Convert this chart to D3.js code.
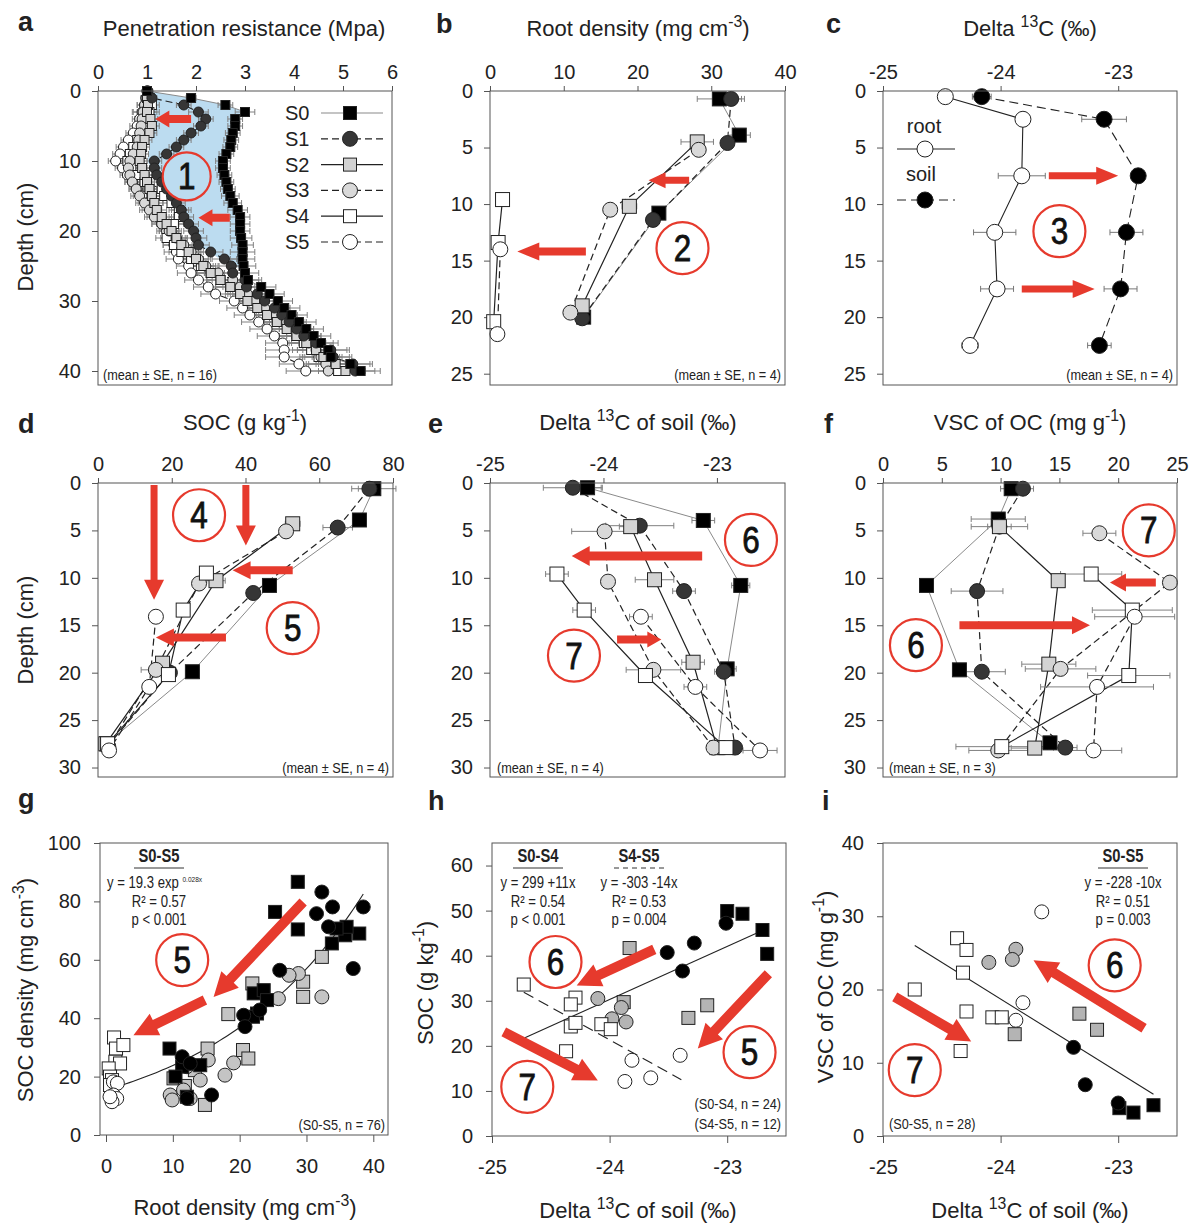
<!DOCTYPE html>
<meta charset="utf-8">
<head>
  <meta charset="utf-8">
  <title>Soil profiles</title>
  <style>
    body { margin: 0; background: #fff; }
  </style>
</head>
<body>
<script src="https://cdn.jsdelivr.net/npm/d3@7"></script>
<script>

// ---------- data ----------
var series = ["S0", "S1", "S2", "S3", "S4", "S5"];

// a: penetration resistance (MPa) at 1 cm steps
var paDepth = [0,1,2,3,4,5,6,7,8,9,10,11,12,13,14,15,16,17,18,19,20,21,22,23,24,25,26,27,28,29,30,31,32,33,34,35,36,37,38,39,40];
var paS0 = [1.0,1.9,2.6,3.0,2.8,2.8,2.75,2.72,2.7,2.62,2.55,2.55,2.58,2.62,2.65,2.7,2.75,2.85,2.9,2.9,2.9,2.92,2.95,2.95,2.95,2.97,3.0,3.06,3.33,3.5,3.67,3.8,3.95,4.1,4.25,4.4,4.55,4.7,4.75,5.15,5.36];
var paS1 = [1.02,1.1,1.75,2.05,2.2,2.1,1.9,1.75,1.6,1.4,1.15,1.15,1.2,1.3,1.4,1.5,1.6,1.7,1.75,1.85,1.95,2.0,2.05,2.3,2.58,2.72,2.75,3.0,3.03,3.25,3.4,3.6,3.75,3.9,4.05,4.2,4.45,4.75,4.8,5.2,5.25];
var paS2 = [1.0,1.0,1.02,1.0,1.07,1.1,1.05,0.95,0.9,0.88,0.85,0.9,0.95,1.0,1.05,1.1,1.15,1.2,1.3,1.4,1.5,1.6,1.7,1.85,2.0,2.15,2.3,2.5,2.7,2.9,3.05,3.25,3.45,3.65,3.85,4.05,4.25,4.45,4.6,4.85,5.05];
var paS3 = [1.0,0.98,0.95,0.92,0.9,0.88,0.85,0.83,0.8,0.72,0.65,0.62,0.65,0.7,0.78,0.85,0.95,1.05,1.15,1.3,1.45,1.6,1.75,1.9,2.05,2.2,2.45,2.75,2.9,3.05,3.2,3.4,3.6,3.85,4.05,4.2,4.3,4.45,4.55,4.65,4.7];
var paS4 = [1.0,1.05,1.1,1.05,1.0,0.95,0.88,0.8,0.72,0.65,0.6,0.68,0.8,0.95,1.3,1.35,1.5,1.65,1.65,1.55,1.45,1.4,1.55,1.7,1.9,2.1,2.3,2.5,2.7,2.95,3.15,3.35,3.55,3.75,3.9,4.05,4.2,4.35,4.5,4.7,4.9];
var paS5 = [1.0,0.98,0.95,0.9,0.85,0.8,0.72,0.62,0.52,0.45,0.36,0.5,0.6,0.7,0.8,0.9,1.0,1.1,1.2,1.3,1.4,1.5,1.55,1.6,1.64,1.85,1.9,2.05,2.25,2.4,2.78,2.95,3.1,3.28,3.45,3.6,3.77,3.8,3.8,4.1,4.24];
var paSE = [0.05,0.1,0.15,0.2,0.15,0.15,0.15,0.15,0.15,0.15,0.15,0.15,0.15,0.15,0.15,0.18,0.18,0.2,0.2,0.2,0.2,0.22,0.22,0.25,0.25,0.25,0.28,0.28,0.3,0.3,0.3,0.32,0.32,0.35,0.35,0.35,0.35,0.38,0.38,0.4,0.4];
var paBlueX = [1.0,1.05,1.1,1.05,1.0,1.9,2.05,2.6,2.95];
var paBlueD = [0,3,5,8,10,20,22,24.5,25.5];

// b: root density (mg cm-3)
var pbX = [[31.1,33.8,22.9,12.7],[32.7,32.2,22.1,12.5],[28.1,18.9,12.5],[28.3,16.3,10.9],[1.7,1.1,0.5],[1.4,1.0]];
var pbD = [[0.7,3.9,10.8,20.0],[0.7,4.6,11.4,20.1],[4.5,10.2,19.0],[5.2,10.5,19.6],[9.6,13.4,20.4],[14.0,21.5]];
var pbE = [[3.0,1.5,0.5,0.4],[1.8,0.8,0.5,0.4],[2.2,1.0,0.4],[0.6,0.5,0.4],[0.3,0.3,0.2],[0.3,0.2]];

// c: delta 13C of root and soil
var pcDepth = [0.5,2.5,7.5,12.5,17.5,22.5];
var pcRoot = [-24.47,-23.81,-23.82,-24.05,-24.03,-24.26];
var pcRootE = [0.03,0.03,0.2,0.18,0.14,0.07];
var pcSoil = [-24.16,-23.12,-22.83,-22.93,-22.98,-23.16];
var pcSoilE = [0.08,0.19,0.03,0.14,0.14,0.1];

// d: SOC (g kg-1)
var pdX = [[74.8,70.9,46.5,25.6,2.3],[73.6,65.0,42.1,19.5,2.5],[52.8,32.0,17.5,2.1],[51.0,27.4,15.7,2.8],[29.4,23.1,19.1,2.6],[15.7,13.9,3.0]];
var pdD = [[0.6,3.9,10.8,19.9,27.5],[0.6,4.7,11.6,20.0,27.8],[4.3,10.3,19.0,27.5],[5.1,10.6,19.7,27.8],[9.5,13.4,20.2,27.5],[14.1,21.5,28.2]];
var pdE = [[6,1.5,1,1,0.5],[3,4,1,1,0.5],[2,2.5,1,0.5],[1,1,4,0.5],[1,1,2,0.5],[1,1,0.5]];

// e: delta 13C of soil
var peX = [[-24.14,-23.12,-22.79,-22.91,-22.99],[-24.27,-23.68,-23.29,-22.94,-22.84],[-23.76,-23.55,-23.21,-23.0],[-23.99,-23.96,-23.56,-23.03],[-24.41,-24.17,-23.63,-22.92],[-23.67,-23.19,-22.62]];
var peD = [[0.5,3.95,10.8,19.6,27.9],[0.5,4.5,11.4,19.9,27.9],[4.6,10.2,18.9,27.9],[5.1,10.4,19.7,27.9],[9.6,13.4,20.3,27.9],[14.1,21.5,28.2]];
var peE = [[0.12,0.1,0.08,0.08,0.05],[0.26,0.3,0.1,0.08,0.05],[0.1,0.17,0.1,0.05],[0.29,0.05,0.24,0.05],[0.1,0.1,0.05,0.05],[0.1,0.1,0.15]];

// f: VSC of OC (mg g-1)
var pfX = [[10.9,9.8,3.7,6.5,14.2],[11.9,9.9,8.0,8.4,15.5],[9.9,14.9,14.1,12.9],[18.4,24.4,15.1,9.8],[17.7,21.2,20.9,10.1],[21.4,18.2,17.9]];
var pfD = [[0.6,3.8,10.8,19.7,27.4],[0.6,4.6,11.4,19.9,27.9],[4.6,10.3,19.1,27.95],[5.3,10.5,19.6,28.2],[9.6,13.4,20.3,27.8],[14.1,21.5,28.2]];
var pfE = [[0.9,2.3,0.3,0.5,0.5],[0.9,1.0,2.2,2.0,1.0],[2.4,0.5,2.3,2.0],[1.4,0.5,3.0,2.5],[2.6,3.4,3.5,3.9],[3.4,4.8,2.4]];

// g: root density vs SOC density
var pgX = [[28.7,25.3,28.7,37.9,33.8,35.8,36.0,34.5,22.1,23.6,24.1,22.6,22.0,9.5,11.4,14.1,10.4,12.1],
           [32.3,31.5,33.9,38.5,33.3,37.0,26.0,20.6,20.8,23.0,11.4,12.6,12.1,15.8],
           [32.3,29.5,29.5,21.9,18.3,15.2,20.5,21.3,10.1,11.8,13.3,14.8],
           [28.8,27.4,25.8,32.3,15.3,19.1,17.8,14.1,12.1,9.6,9.9,12.6,11.6],
           [1.2,1.5,2.6,1.4,2.1,0.4,0.6,0.9,0.6],
           [1.1,1.7,1.1,1.6,0.9,0.6]];
var pgY = [[86.7,76.4,70.4,69.0,65.6,68.4,71.3,70.7,48.5,49.6,46.2,41.6,40.5,29.6,23.4,23.9,20.0,13.1],
           [83.2,75.8,78.1,78.1,71.3,57.0,56.4,41.0,37.1,42.8,26.8,24.5,12.5,13.7],
           [61.0,52.5,47.3,51.9,41.4,29.6,29.1,26.2,19.4,16.8,22.2,10.3],
           [55.3,54.7,46.7,47.3,25.7,24.7,20.5,18.8,23.4,13.7,12.0,12.5,15.4],
           [33.4,29.6,30.8,25.1,24.5,22.8,20.0,18.8,17.1],
           [18.2,17.7,13.7,12.5,11.4,13.1]];
var pgFit = {a: 15.4, b: 0.0436, from: 0.5, to: 38.5};

// h: delta 13C vs SOC
var phX = [[-23.0,-22.87,-22.70,-22.66],[-23.01,-23.28,-23.51,-23.38],[-23.83,-23.88,-23.33,-23.17],[-24.10,-23.90,-23.98,-23.86],
           [-24.73,-24.29,-24.33,-24.33,-24.29,-24.07,-23.99,-24.37],[-23.81,-23.87,-23.65,-23.40]];
var phY = [[49.9,49.3,45.7,40.4],[47.2,42.8,40.7,36.6],[41.7,29.7,26.2,29.0],[30.5,28.5,26.0,25.3],
           [33.6,30.7,29.2,24.3,25.1,24.8,23.7,18.8],[16.8,12.1,12.9,17.9]];
var phFitA = [[-24.72,21.8],[-22.70,45.6]];
var phFitB = [[-24.73,31.9],[-23.39,12.5]];

// i: delta 13C vs VSC
var piX = [[-22.99,-22.87,-22.70],[-23.38,-23.28,-23.0],[-23.88,-23.33,-23.18],[-24.10,-23.87,-23.90],
           [-24.37,-24.29,-24.32,-24.73,-24.29,-24.07,-23.99,-24.34],[-23.65,-23.81,-23.87]];
var piY = [[3.8,3.2,4.2],[12.1,7.0,4.5],[13.9,16.7,14.5],[23.7,25.5,24.1],
           [27.0,25.4,22.3,20.0,17.0,16.2,16.2,11.6],[30.6,18.2,15.8]];
var piFit = [[-24.73,26.0],[-22.70,5.7]];

// ---------- styles ----------
var FONT = "'Liberation Sans', Arial, sans-serif";
var NARROW_X = 0.82;   // horizontal squeeze used to mimic a narrow face
var RED = "#e63a2d";
var BLUE = "#bcdcf0";
var style = {
  S0: {shape: "square", fill: "#000", line: "#8a8a8a", dash: null, lw: 1},
  S1: {shape: "circle", fill: "#363636", line: "#222", dash: "7,4", lw: 1.2},
  S2: {shape: "square", fill: "#d3d3d3", line: "#222", dash: null, lw: 1.2},
  S3: {shape: "circle", fill: "#d9d9d9", line: "#222", dash: "7,4", lw: 1.2},
  S4: {shape: "square", fill: "#fff", line: "#222", dash: null, lw: 1.2},
  S5: {shape: "circle", fill: "#fff", line: "#222", dash: "7,4", lw: 1.2}
};

var svg = d3.select("body").append("svg")
    .attr("width", 1196).attr("height", 1223)
    .style("background", "#fff");

function fmt(d) { return String(d); }

function frame(p) {
  var x = d3.scaleLinear().domain(p.xd).range(p.xr);
  var y = d3.scaleLinear().domain(p.yd).range(p.yr);
  var g = svg.append("g");
  var top = Math.min(p.yr[0], p.yr[1]), bot = Math.max(p.yr[0], p.yr[1]);
  var xa = (p.xTop ? d3.axisTop(x) : d3.axisBottom(x))
      .tickValues(p.xt).tickSize(p.xTop ? 5 : 7).tickPadding(p.xTop ? 7 : 17).tickFormat(fmt);
  var gx = g.append("g").attr("transform", "translate(0," + (p.xTop ? top : bot) + ")").call(xa);
  var ya = d3.axisLeft(y).tickValues(p.yt).tickSize(6).tickPadding(p.xTop ? 11 : 13).tickFormat(fmt);
  var gy = g.append("g").attr("transform", "translate(" + p.xr[0] + ",0)").call(ya);
  [gx, gy].forEach(function(a) {
    a.attr("font-size", 20).attr("font-family", FONT).attr("color", "#222");
    a.select(".domain").remove();
    a.selectAll("line").attr("stroke", "#555");
  });
  var plot = g.append("g");
  g.append("rect")
      .attr("x", p.xr[0]).attr("y", top)
      .attr("width", p.xr[1] - p.xr[0]).attr("height", bot - top)
      .attr("fill", "none").attr("stroke", "#555").attr("stroke-width", 1);
  return {g: plot, x: x, y: y, top: g};
}

function marker(g, cx, cy, shape, size, fill, stroke) {
  if (shape === "square") {
    g.append("rect").attr("x", cx - size / 2).attr("y", cy - size / 2)
      .attr("width", size).attr("height", size)
      .attr("fill", fill).attr("stroke", stroke || "#222").attr("stroke-width", 1);
  } else {
    g.append("circle").attr("cx", cx).attr("cy", cy).attr("r", size / 2)
      .attr("fill", fill).attr("stroke", stroke || "#222").attr("stroke-width", 1);
  }
}

function errbar(g, x1, x2, y, col) {
  g.append("line").attr("x1", x1).attr("x2", x2).attr("y1", y).attr("y2", y)
    .attr("stroke", col || "#777").attr("stroke-width", 1);
  [x1, x2].forEach(function(xx) {
    g.append("line").attr("x1", xx).attr("x2", xx).attr("y1", y - 3).attr("y2", y + 3)
      .attr("stroke", col || "#777").attr("stroke-width", 1);
  });
}

// profile panel: values xs[k][i] at depth ds[k][i]
function profile(P, xs, ds, es, sq, order) {
  order = order || [0, 1, 2, 3, 4, 5];
  var line = d3.line().x(function(d) { return P.x(d[0]); }).y(function(d) { return P.y(d[1]); });
  order.forEach(function(k) {
    var st = style[series[k]];
    var pts = xs[k].map(function(v, i) { return [v, ds[k][i]]; });
    P.g.append("path").attr("d", line(pts)).attr("fill", "none")
      .attr("stroke", st.line).attr("stroke-width", st.lw)
      .attr("stroke-dasharray", st.dash);
  });
  order.forEach(function(k) {
    xs[k].forEach(function(v, i) {
      var e = es[k][i];
      if (e > 0.04) errbar(P.g, P.x(v - e), P.x(v + e), P.y(ds[k][i]), "#808080");
    });
  });
  order.forEach(function(k) {
    var st = style[series[k]];
    xs[k].forEach(function(v, i) {
      marker(P.g, P.x(v), P.y(ds[k][i]), st.shape, st.shape === "square" ? sq : sq + 1, st.fill);
    });
  });
}

function scatter(P, xs, ys, fills, order) {
  order.forEach(function(k) {
    var st = style[series[k]];
    xs[k].forEach(function(v, i) {
      marker(P.g, P.x(v), P.y(ys[k][i]), st.shape, st.shape === "square" ? 13 : 14, fills[k]);
    });
  });
}

function arrow(P, a, w, hw, hl) {
  var x1 = P.x(a[0]), y1 = P.y(a[1]), x2 = P.x(a[2]), y2 = P.y(a[3]);
  var dx = x2 - x1, dy = y2 - y1, L = Math.hypot(dx, dy);
  var ux = dx / L, uy = dy / L, nx = -uy, ny = ux;
  var bx = x2 - ux * hl, by = y2 - uy * hl;
  var pts = [[x1 + nx * w / 2, y1 + ny * w / 2], [bx + nx * w / 2, by + ny * w / 2],
             [bx + nx * hw / 2, by + ny * hw / 2], [x2, y2],
             [bx - nx * hw / 2, by - ny * hw / 2], [bx - nx * w / 2, by - ny * w / 2],
             [x1 - nx * w / 2, y1 - ny * w / 2]];
  P.top.append("polygon").attr("points", pts.map(function(p) { return p.join(","); }).join(" "))
    .attr("fill", RED);
}

function badge(P, cx, cy, label, r, fill) {
  var x = P.x(cx), y = P.y(cy);
  P.top.append("circle").attr("cx", x).attr("cy", y).attr("r", r || 26)
    .attr("fill", fill || "#fff").attr("stroke", RED).attr("stroke-width", 2.2);
  P.top.append("text").attr("transform", "translate(" + x + "," + (y + 13) + ") scale(0.85,1)")
    .attr("text-anchor", "middle")
    .attr("font-family", FONT).attr("font-size", 37).attr("fill", "#111")
    .attr("stroke", "#111").attr("stroke-width", 0.8).text(label);
}

// text with superscripts; parts: strings or {sup: "..."}
function rich(x, y, parts, size, anchor, rot, sx, weight) {
  var t = svg.append("text").attr("font-size", size).attr("font-family", FONT)
      .attr("fill", "#222").attr("text-anchor", anchor || "middle");
  if (weight) t.attr("font-weight", weight);
  if (rot) t.attr("transform", "translate(" + x + "," + y + ") rotate(-90)");
  else if (sx) t.attr("transform", "translate(" + x + "," + y + ") scale(" + sx + ",1)");
  else t.attr("x", x).attr("y", y);
  var shift = 0;
  parts.forEach(function(p) {
    var target = typeof p === "string" ? 0 : -(p.rise || size * 0.4);
    var sp = t.append("tspan").attr("dy", target - shift);
    if (typeof p === "string") sp.text(p);
    else sp.attr("font-size", p.size || size * 0.72).text(p.sup);
    shift = target;
  });
  return t;
}

function note(x, y, s, size, anchor, weight) {
  svg.append("text").attr("transform", "translate(" + x + "," + y + ") scale(" + NARROW_X + ",1)")
    .attr("font-family", FONT)
    .attr("font-size", size).attr("text-anchor", anchor || "start")
    .attr("font-weight", weight || "normal").attr("fill", "#222").text(s);
}

function letter(x, y, s) {
  svg.append("text").attr("x", x).attr("y", y).attr("font-family", FONT)
    .attr("font-size", 27).attr("font-weight", "bold").attr("fill", "#222").text(s);
}

// ---------- panel a ----------
var A = frame({xd: [0, 6], xr: [98, 392], yd: [0, 42], yr: [91, 385],
               xt: [0, 1, 2, 3, 4, 5, 6], yt: [0, 10, 20, 30, 40], xTop: true});
var blue = [];
for (var i = 0; i <= 25; i++) blue.push([A.x(paS0[i]), A.y(paDepth[i])]);
for (var j = paBlueX.length - 1; j >= 0; j--) blue.push([A.x(paBlueX[j]), A.y(paBlueD[j])]);
A.g.append("polygon").attr("points", blue.map(function(p) { return p.join(","); }).join(" "))
  .attr("fill", BLUE);
var paAll = [paS0, paS1, paS2, paS3, paS4, paS5];
var paD = paAll.map(function() { return paDepth; });
var paE = paAll.map(function() { return paSE; });
profile(A, paAll, paD, paE, 9, [5, 4, 3, 2, 1, 0]);

// legend a
series.forEach(function(s, k) {
  var st = style[s], yy = 113 + k * 25.8;
  A.top.append("line").attr("x1", 321).attr("x2", 383).attr("y1", yy).attr("y2", yy)
    .attr("stroke", k === 0 ? "#8a8a8a" : "#222").attr("stroke-width", 1.2)
    .attr("stroke-dasharray", st.dash);
  marker(A.top, 350, yy, st.shape, st.shape === "square" ? 13 : 15, st.fill);
  A.top.append("text").attr("x", 285).attr("y", yy + 7).attr("font-size", 20)
    .attr("font-family", FONT).attr("fill", "#222").text(s);
});
arrow(A, [1.9, 4, 1.17, 4], 8, 17, 14);
arrow(A, [2.69, 18.1, 2.05, 18.1], 8, 17, 14);
badge(A, 1.81, 12.2, "1", 24, BLUE);

// ---------- panel b ----------
var B = frame({xd: [0, 40], xr: [490, 785], yd: [0, 26], yr: [91, 385],
               xt: [0, 10, 20, 30, 40], yt: [0, 5, 10, 15, 20, 25], xTop: true});
profile(B, pbX, pbD, pbE, 14);
arrow(B, [27, 7.9, 21.5, 7.9], 7, 16, 17);
arrow(B, [13.0, 14.2, 3.7, 14.2], 8, 18, 22);
badge(B, 26.1, 13.9, "2");

// ---------- panel c ----------
var C = frame({xd: [-25, -22.5], xr: [883, 1177], yd: [0, 26], yr: [91, 385],
               xt: [-25, -24, -23], yt: [0, 5, 10, 15, 20, 25], xTop: true});
var cLine = d3.line().x(function(d) { return C.x(d[0]); }).y(function(d) { return C.y(d[1]); });
C.g.append("path").attr("d", cLine(pcRoot.map(function(v, i) { return [v, pcDepth[i]]; })))
  .attr("fill", "none").attr("stroke", "#222").attr("stroke-width", 1.1);
C.g.append("path").attr("d", cLine(pcSoil.map(function(v, i) { return [v, pcDepth[i]]; })))
  .attr("fill", "none").attr("stroke", "#222").attr("stroke-width", 1.1).attr("stroke-dasharray", "9,5");
pcRoot.forEach(function(v, i) { if (pcRootE[i] > 0.04) errbar(C.g, C.x(v - pcRootE[i]), C.x(v + pcRootE[i]), C.y(pcDepth[i])); });
pcSoil.forEach(function(v, i) { if (pcSoilE[i] > 0.04) errbar(C.g, C.x(v - pcSoilE[i]), C.x(v + pcSoilE[i]), C.y(pcDepth[i])); });
pcRoot.forEach(function(v, i) { marker(C.g, C.x(v), C.y(pcDepth[i]), "circle", 16, "#fff"); });
pcSoil.forEach(function(v, i) { marker(C.g, C.x(v), C.y(pcDepth[i]), "circle", 16, "#000"); });
// legend c
C.top.append("text").attr("x", 924).attr("y", 133).attr("text-anchor", "middle")
  .attr("font-size", 20).attr("font-family", FONT).attr("fill", "#222").text("root");
C.top.append("line").attr("x1", 897).attr("x2", 955).attr("y1", 149).attr("y2", 149).attr("stroke", "#222");
marker(C.top, 925, 149, "circle", 16, "#fff");
C.top.append("text").attr("x", 921).attr("y", 181).attr("text-anchor", "middle")
  .attr("font-size", 20).attr("font-family", FONT).attr("fill", "#222").text("soil");
C.top.append("line").attr("x1", 897).attr("x2", 955).attr("y1", 200).attr("y2", 200)
  .attr("stroke", "#222").attr("stroke-dasharray", "9,5");
marker(C.top, 925, 200, "circle", 16, "#000");
arrow(C, [-23.59, 7.5, -23.0, 7.5], 7, 18, 22);
arrow(C, [-23.82, 17.5, -23.2, 17.5], 7, 18, 22);
badge(C, -23.5, 12.4, "3");

// ---------- panel d ----------
var D = frame({xd: [0, 80], xr: [98, 393], yd: [0, 31], yr: [483, 777],
               xt: [0, 20, 40, 60, 80], yt: [0, 5, 10, 15, 20, 25, 30], xTop: true});
profile(D, pdX, pdD, pdE, 14);
arrow(D, [15.2, 0.2, 15.2, 12.3], 7, 20, 20);
arrow(D, [40.1, 0.2, 40.1, 6.6], 7, 20, 20);
arrow(D, [52.8, 9.2, 36.5, 9.2], 8, 18, 18);
arrow(D, [34.7, 16.3, 15.7, 16.3], 8, 18, 18);
badge(D, 27.4, 3.4, "4");
badge(D, 52.8, 15.3, "5");

// ---------- panel e ----------
var E = frame({xd: [-25, -22.4], xr: [490, 785], yd: [0, 31], yr: [483, 777],
               xt: [-25, -24, -23], yt: [0, 5, 10, 15, 20, 25, 30], xTop: true});
profile(E, peX, peD, peE, 14);
arrow(E, [-23.13, 7.7, -24.28, 7.7], 9, 20, 18);
arrow(E, [-23.88, 16.5, -23.49, 16.5], 8, 16, 14);
badge(E, -22.70, 6.0, "6");
badge(E, -24.26, 18.2, "7");

// ---------- panel f ----------
var F = frame({xd: [0, 25], xr: [883, 1177], yd: [0, 31], yr: [483, 777],
               xt: [0, 5, 10, 15, 20, 25], yt: [0, 5, 10, 15, 20, 25, 30], xTop: true});
profile(F, pfX, pfD, pfE, 14);
arrow(F, [23.2, 10.5, 19.3, 10.5], 8, 18, 16);
arrow(F, [6.5, 15, 17.6, 15], 8, 18, 18);
badge(F, 22.6, 5.0, "7");
badge(F, 2.8, 17.1, "6");

// ---------- panel g ----------
var G = frame({xd: [-0.9, 42.2], xr: [100, 388], yd: [0, 100], yr: [1135, 843],
               xt: [0, 10, 20, 30, 40], yt: [0, 20, 40, 60, 80, 100], xTop: false});
var gCurve = d3.range(pgFit.from, pgFit.to + 0.01, 0.5).map(function(v) { return [v, pgFit.a * Math.exp(pgFit.b * v)]; });
G.g.append("path").attr("d", d3.line().x(function(d) { return G.x(d[0]); }).y(function(d) { return G.y(d[1]); })(gCurve))
  .attr("fill", "none").attr("stroke", "#222").attr("stroke-width", 1.1);
scatter(G, pgX, pgY, ["#000", "#000", "#c4c4c4", "#c4c4c4", "#fff", "#fff"], [4, 5, 2, 3, 0, 1]);
arrow(G, [29.5, 79.8, 16.1, 47.3], 10, 24, 24);
arrow(G, [14.8, 46.2, 4.1, 34.2], 10, 24, 24);
badge(G, 11.4, 59.9, "5");

// ---------- panel h ----------
var Hh = frame({xd: [-25, -22.5], xr: [492, 786], yd: [0, 65], yr: [1136, 843],
                xt: [-25, -24, -23], yt: [0, 10, 20, 30, 40, 50, 60], xTop: false});
Hh.g.append("line").attr("x1", Hh.x(phFitA[0][0])).attr("y1", Hh.y(phFitA[0][1]))
  .attr("x2", Hh.x(phFitA[1][0])).attr("y2", Hh.y(phFitA[1][1])).attr("stroke", "#222").attr("stroke-width", 1.1);
Hh.g.append("line").attr("x1", Hh.x(phFitB[0][0])).attr("y1", Hh.y(phFitB[0][1]))
  .attr("x2", Hh.x(phFitB[1][0])).attr("y2", Hh.y(phFitB[1][1])).attr("stroke", "#222")
  .attr("stroke-width", 1.1).attr("stroke-dasharray", "11,6");
scatter(Hh, phX, phY, ["#000", "#000", "#b4b4b4", "#b4b4b4", "#fff", "#fff"], [0, 1, 2, 3, 4, 5]);
arrow(Hh, [-23.62, 41.4, -24.28, 33.4], 10, 24, 24);
arrow(Hh, [-22.65, 36.0, -23.25, 19.4], 10, 24, 24);
arrow(Hh, [-24.90, 23.1, -24.10, 12.3], 10, 24, 24);
badge(Hh, -24.46, 38.6, "6");
badge(Hh, -22.81, 18.6, "5");
badge(Hh, -24.70, 10.9, "7");

// ---------- panel i ----------
var I = frame({xd: [-25, -22.5], xr: [883, 1177], yd: [0, 40], yr: [1136, 843],
               xt: [-25, -24, -23], yt: [0, 10, 20, 30, 40], xTop: false});
I.g.append("line").attr("x1", I.x(piFit[0][0])).attr("y1", I.y(piFit[0][1]))
  .attr("x2", I.x(piFit[1][0])).attr("y2", I.y(piFit[1][1])).attr("stroke", "#222").attr("stroke-width", 1.1);
scatter(I, piX, piY, ["#000", "#000", "#b4b4b4", "#b4b4b4", "#fff", "#fff"], [0, 1, 2, 3, 4, 5]);
arrow(I, [-22.78, 14.7, -23.72, 24.0], 10, 24, 24);
arrow(I, [-24.90, 19.0, -24.25, 12.9], 10, 24, 24);
badge(I, -23.03, 23.3, "6");
badge(I, -24.73, 9.0, "7");

// ---------- titles and letters ----------
letter(18, 31, "a"); letter(436, 33, "b"); letter(826, 33, "c");
letter(18, 433, "d"); letter(428, 433, "e"); letter(824, 433, "f");
letter(18, 808, "g"); letter(428, 810, "h"); letter(822, 810, "i");

rich(244, 36, ["Penetration resistance (Mpa)"], 22);
rich(638, 36, ["Root density (mg cm", {sup: "-3"}, ")"], 22);
rich(1030, 36, ["Delta ", {sup: "13"}, "C (‰)"], 22);
rich(245, 430, ["SOC (g kg", {sup: "-1"}, ")"], 22);
rich(638, 430, ["Delta ", {sup: "13"}, "C of soil (‰)"], 22);
rich(1030, 430, ["VSC of OC (mg g", {sup: "-1"}, ")"], 22);
rich(245, 1215, ["Root density (mg cm", {sup: "-3"}, ")"], 22);
rich(638, 1218, ["Delta ", {sup: "13"}, "C of soil (‰)"], 22);
rich(1030, 1218, ["Delta ", {sup: "13"}, "C of soil (‰)"], 22);
rich(33, 237, ["Depth (cm)"], 22, "middle", true);
rich(33, 630, ["Depth (cm)"], 22, "middle", true);
rich(33, 990, ["SOC density (mg cm", {sup: "-3"}, ")"], 22, "middle", true);
rich(433, 983, ["SOC (g kg", {sup: "-1"}, ")"], 22, "middle", true);
rich(833, 987, ["VSC of OC (mg g", {sup: "-1"}, ")"], 22, "middle", true);

// ---------- small notes ----------
note(103, 380, "(mean ± SE, n = 16)", 15.5);
note(781, 380, "(mean ± SE, n = 4)", 15.5, "end");
note(1173, 380, "(mean ± SE, n = 4)", 15.5, "end");
note(389, 773, "(mean ± SE, n = 4)", 15.5, "end");
note(497, 773, "(mean ± SE, n = 4)", 15.5);
note(889, 773, "(mean ± SE, n = 3)", 15.5);
note(385, 1130, "(S0-S5, n = 76)", 15.5, "end");
note(781, 1109, "(S0-S4, n = 24)", 15.5, "end");
note(781, 1129, "(S4-S5, n = 12)", 15.5, "end");
note(889, 1129, "(S0-S5, n = 28)", 15.5);

// regression labels
function regLabel(cx, head, dashed, lines) {
  note(cx, 862, head, 18, "middle", "bold");
  svg.append("line").attr("x1", cx - 25).attr("x2", cx + 25).attr("y1", 868).attr("y2", 868)
    .attr("stroke", "#333").attr("stroke-width", 1).attr("stroke-dasharray", dashed ? "5,4" : null);
  lines.forEach(function(s, k) {
    if (s) note(cx, 888 + k * 18.5, s, 16, "middle");
  });
}
regLabel(159, "S0-S5", false, ["", "R² = 0.57", "p < 0.001"]);
rich(107, 888, ["y = 19.3 exp ", {sup: "0.028x", size: 8, rise: 6}], 16, "start", false, NARROW_X);
regLabel(538, "S0-S4", false, ["y = 299 +11x", "R² = 0.54", "p < 0.001"]);
regLabel(639, "S4-S5", true, ["y = -303 -14x", "R² = 0.53", "p = 0.004"]);
regLabel(1123, "S0-S5", false, ["y = -228 -10x", "R² = 0.51", "p = 0.003"]);

</script>
</body>
